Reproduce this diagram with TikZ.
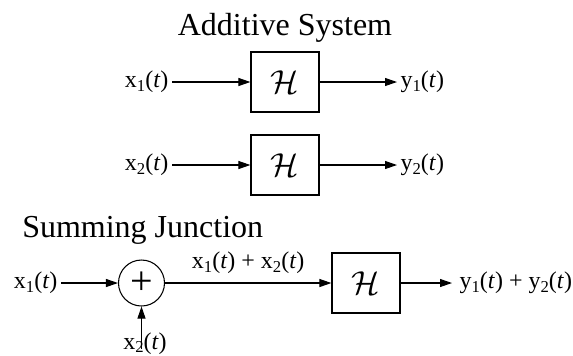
\documentclass[tikz,border=0pt]{standalone}
\usepackage{fontspec}
\setmainfont{Liberation Serif}
\usepackage{tikz}
\usetikzlibrary{positioning, arrows.meta, calc}
\newcommand{\sig}[2]{#1\raisebox{-2.5pt}{\fontsize{12.5}{13}\selectfont #2}(\textit{t})}
\tikzset{
    sysbox/.style={draw, line width=0.9pt, minimum width=51pt, minimum height=45pt, inner sep=0pt, font=\fontsize{32}{34}\selectfont},
    sumnode/.style={draw, circle, line width=0.8pt, minimum size=34.5pt, inner sep=0pt, font=\fontsize{30}{30}\selectfont},
    sigarrow/.style={-{Triangle[length=9pt, width=6pt]}, line width=0.8pt},
    siglbl/.style={font=\fontsize{18}{20}\selectfont, inner sep=2.5pt},
    heading/.style={font=\fontsize{24}{28}\selectfont, inner sep=0pt},
}

\begin{document}
\begin{tikzpicture}[x=0.75pt, y=-0.75pt]
        \useasboundingbox (0,0) rectangle (573,355);
        \node[heading, anchor=base] (addtitle) at (285,35) {Additive System};
        \node[sysbox] (h1) at (285,82) {$\mathcal{H}$};
        \node[siglbl, anchor=east] (x1in) at (172,82) {\sig{x}{1}};
        \node[siglbl, anchor=west] (y1out) at (397,82) {\sig{y}{1}};
        \node[sysbox] (h2) at (285,165) {$\mathcal{H}$};
        \node[siglbl, anchor=east] (x2in) at (172,165) {\sig{x}{2}};
        \node[siglbl, anchor=west] (y2out) at (397,165) {\sig{y}{2}};
        \draw[sigarrow] (x1in) -- (h1);
        \draw[sigarrow] (h1) -- (y1out);
        \draw[sigarrow] (x2in) -- (h2);
        \draw[sigarrow] (h2) -- (y2out);
        \node[heading, anchor=base west] (sumtitle) at (22,237) {Summing Junction};
        \node[sumnode] (sum) at (141.5,283) {+};
        \node[siglbl, anchor=east] (x1sum) at (61,283) {\sig{x}{1}};
        \node[siglbl, anchor=north, inner sep=0.5pt] (x2sum) at (145,332) {\sig{x}{2}};
        \coordinate (x2tail) at (141.5,349);
        \node[sysbox] (h3) at (366,283) {$\mathcal{H}$};
        \node[siglbl, anchor=west, inner xsep=5.5pt] (ysum) at (452,283) {\sig{y}{1} + \sig{y}{2}};
        \draw[sigarrow] (x1sum) -- (sum);
        \draw[sigarrow] (x2tail) -- (sum);
        \draw[sigarrow] (sum) -- (h3) node[siglbl, midway, above=4pt] {\sig{x}{1} + \sig{x}{2}};
        \draw[sigarrow] (h3) -- (ysum);
    \end{tikzpicture}
\end{document}
